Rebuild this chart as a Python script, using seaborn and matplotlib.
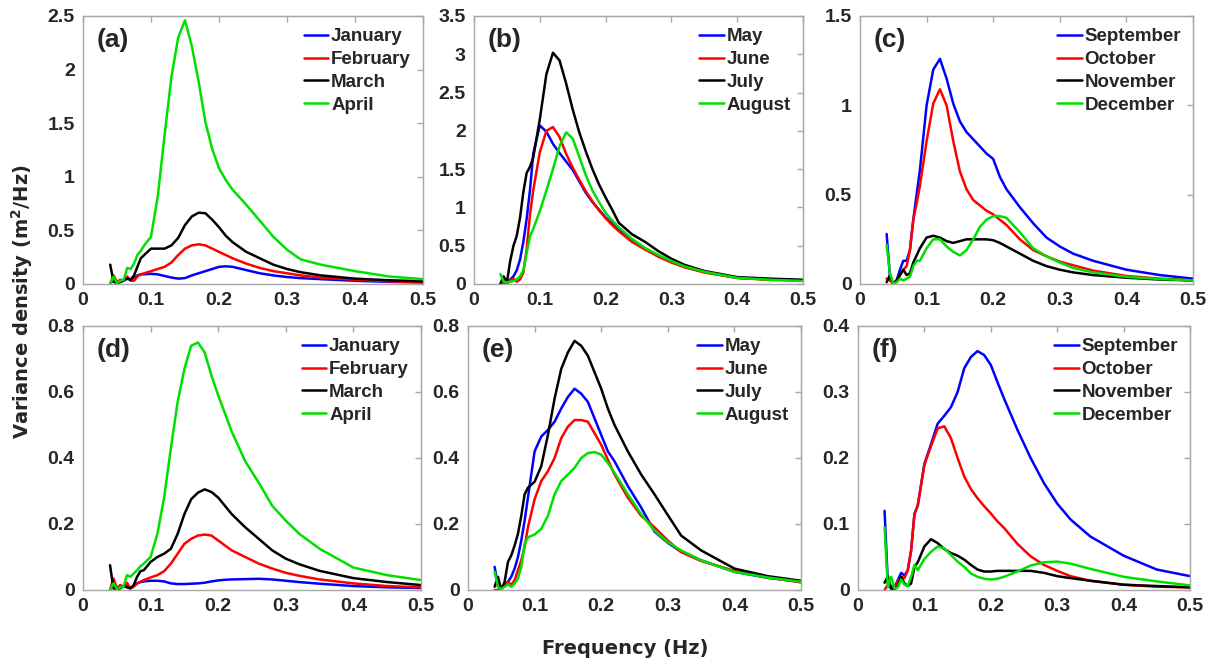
import numpy as np
import pandas as pd
import matplotlib
matplotlib.use("Agg")
import matplotlib.pyplot as plt
import seaborn as sns
from matplotlib.ticker import FuncFormatter

# ---------------- data ----------------
freq = [0.040, 0.045, 0.050, 0.055, 0.060, 0.065, 0.070, 0.075, 0.080, 0.085,
        0.090, 0.100, 0.110, 0.120, 0.130, 0.140, 0.150, 0.160, 0.170, 0.180,
        0.190, 0.200, 0.210, 0.220, 0.240, 0.260, 0.280, 0.300, 0.320, 0.350,
        0.400, 0.450, 0.500]

months_1 = ["January", "February", "March", "April"]
months_2 = ["May", "June", "July", "August"]
months_3 = ["September", "October", "November", "December"]

# (a)
a_jan = [0.0, 0.05, 0.01, 0.02, 0.03, 0.05, 0.04, 0.06, 0.08, 0.09, 0.09, 0.095, 0.09, 0.075, 0.06, 0.05, 0.055,
         0.08, 0.10, 0.12, 0.14, 0.16, 0.165, 0.16, 0.13, 0.10, 0.08, 0.065, 0.055, 0.045, 0.03, 0.02, 0.015]
a_feb = [0.0, 0.08, 0.02, 0.04, 0.03, 0.07, 0.03, 0.03, 0.07, 0.09, 0.10, 0.12, 0.14, 0.16, 0.20, 0.27, 0.33,
         0.36, 0.37, 0.36, 0.33, 0.30, 0.27, 0.24, 0.19, 0.15, 0.12, 0.10, 0.08, 0.06, 0.04, 0.025, 0.015]
a_mar = [0.18, 0.02, 0.01, 0.02, 0.04, 0.05, 0.04, 0.08, 0.16, 0.24, 0.27, 0.33, 0.33, 0.33, 0.36, 0.43, 0.55,
         0.63, 0.665, 0.66, 0.60, 0.53, 0.45, 0.39, 0.30, 0.24, 0.18, 0.14, 0.11, 0.08, 0.05, 0.035, 0.025]
a_apr = [0.0, 0.07, 0.01, 0.03, 0.04, 0.15, 0.14, 0.19, 0.27, 0.31, 0.36, 0.44, 0.82, 1.39, 1.93, 2.30, 2.46,
         2.22, 1.89, 1.51, 1.26, 1.08, 0.97, 0.88, 0.74, 0.59, 0.44, 0.32, 0.23, 0.18, 0.12, 0.07, 0.045]

# (b)
b_may = [0.0, 0.03, 0.01, 0.06, 0.10, 0.18, 0.32, 0.55, 0.85, 1.22, 1.70, 2.07, 1.99, 1.83, 1.71, 1.60, 1.49,
         1.34, 1.19, 1.07, 0.97, 0.87, 0.79, 0.71, 0.58, 0.46, 0.36, 0.29, 0.22, 0.16, 0.08, 0.06, 0.05]
b_jun = [0.0, 0.01, 0.0, 0.05, 0.07, 0.03, 0.06, 0.15, 0.45, 0.90, 1.22, 1.72, 2.00, 2.05, 1.92, 1.70, 1.52,
         1.36, 1.21, 1.08, 0.96, 0.86, 0.77, 0.69, 0.55, 0.45, 0.36, 0.28, 0.22, 0.15, 0.08, 0.055, 0.045]
b_jul = [0.0, 0.10, 0.02, 0.30, 0.50, 0.63, 0.87, 1.20, 1.45, 1.53, 1.65, 2.15, 2.74, 3.02, 2.92, 2.62, 2.28,
         1.98, 1.73, 1.50, 1.30, 1.13, 0.97, 0.80, 0.65, 0.55, 0.43, 0.33, 0.25, 0.17, 0.09, 0.07, 0.055]
b_aug = [0.13, 0.03, 0.02, 0.03, 0.04, 0.06, 0.10, 0.18, 0.40, 0.62, 0.72, 0.95, 1.22, 1.50, 1.80, 1.98, 1.90,
         1.66, 1.42, 1.22, 1.07, 0.93, 0.83, 0.74, 0.59, 0.47, 0.38, 0.30, 0.23, 0.16, 0.08, 0.055, 0.04]

# (c)
c_sep = [0.28, 0.04, 0.0, 0.02, 0.08, 0.13, 0.13, 0.19, 0.36, 0.50, 0.64, 1.00, 1.20, 1.26, 1.15, 1.01, 0.91,
         0.85, 0.81, 0.77, 0.73, 0.70, 0.60, 0.53, 0.43, 0.34, 0.26, 0.21, 0.17, 0.13, 0.08, 0.05, 0.03]
c_oct = [0.03, 0.02, 0.0, 0.02, 0.05, 0.08, 0.10, 0.19, 0.36, 0.45, 0.55, 0.80, 1.01, 1.09, 1.00, 0.80, 0.63,
         0.53, 0.47, 0.44, 0.41, 0.39, 0.36, 0.33, 0.25, 0.19, 0.155, 0.125, 0.105, 0.075, 0.045, 0.03, 0.02]
c_nov = [0.01, 0.05, 0.0, 0.02, 0.05, 0.08, 0.05, 0.06, 0.12, 0.16, 0.20, 0.26, 0.27, 0.26, 0.24, 0.23, 0.24,
         0.25, 0.25, 0.25, 0.25, 0.245, 0.23, 0.21, 0.17, 0.13, 0.10, 0.08, 0.065, 0.05, 0.035, 0.025, 0.02]
c_dec = [0.22, 0.06, 0.0, 0.01, 0.03, 0.02, 0.03, 0.04, 0.10, 0.13, 0.13, 0.20, 0.25, 0.25, 0.21, 0.18, 0.16,
         0.19, 0.25, 0.32, 0.36, 0.38, 0.38, 0.37, 0.29, 0.20, 0.155, 0.12, 0.09, 0.065, 0.04, 0.028, 0.02]

# (d)
d_jan = [0.0, 0.02, 0.003, 0.01, 0.01, 0.015, 0.005, 0.012, 0.02, 0.024, 0.026, 0.028, 0.028, 0.026, 0.02, 0.018,
         0.018, 0.019, 0.02, 0.022, 0.026, 0.029, 0.031, 0.032, 0.033, 0.034, 0.032, 0.028, 0.024, 0.019, 0.012,
         0.008, 0.006]
d_feb = [0.0, 0.035, 0.005, 0.015, 0.01, 0.022, 0.005, 0.01, 0.02, 0.025, 0.03, 0.038, 0.045, 0.057, 0.08, 0.11,
         0.14, 0.155, 0.165, 0.168, 0.165, 0.15, 0.135, 0.12, 0.10, 0.08, 0.065, 0.052, 0.043, 0.032, 0.02, 0.012,
         0.008]
d_mar = [0.075, 0.005, 0.003, 0.005, 0.012, 0.008, 0.005, 0.015, 0.04, 0.057, 0.06, 0.085, 0.10, 0.11, 0.125,
         0.17, 0.23, 0.275, 0.295, 0.305, 0.297, 0.28, 0.255, 0.23, 0.19, 0.155, 0.12, 0.095, 0.078, 0.058, 0.036,
         0.024, 0.015]
d_apr = [0.0, 0.02, 0.003, 0.008, 0.01, 0.045, 0.04, 0.05, 0.06, 0.072, 0.08, 0.10, 0.17, 0.28, 0.43, 0.57, 0.67,
         0.74, 0.75, 0.72, 0.65, 0.59, 0.535, 0.48, 0.39, 0.325, 0.255, 0.21, 0.17, 0.125, 0.068, 0.045, 0.03]

# (e)
e_may = [0.07, 0.01, 0.005, 0.015, 0.025, 0.04, 0.065, 0.10, 0.15, 0.21, 0.28, 0.42, 0.465, 0.485, 0.51, 0.55,
         0.585, 0.61, 0.595, 0.57, 0.52, 0.47, 0.42, 0.39, 0.315, 0.25, 0.177, 0.143, 0.116, 0.09, 0.055, 0.037,
         0.025]
e_jun = [0.0, 0.0, 0.005, 0.015, 0.025, 0.015, 0.03, 0.06, 0.09, 0.13, 0.19, 0.275, 0.33, 0.36, 0.40, 0.46,
         0.495, 0.515, 0.515, 0.51, 0.475, 0.44, 0.395, 0.35, 0.28, 0.225, 0.19, 0.15, 0.115, 0.088, 0.058, 0.038,
         0.023]
e_jul = [0.01, 0.04, 0.0, 0.025, 0.085, 0.105, 0.135, 0.17, 0.225, 0.29, 0.31, 0.328, 0.375, 0.47, 0.58, 0.67,
         0.72, 0.755, 0.74, 0.71, 0.66, 0.61, 0.55, 0.50, 0.42, 0.35, 0.29, 0.227, 0.165, 0.12, 0.065, 0.042, 0.028]
e_aug = [0.055, 0.01, 0.003, 0.01, 0.017, 0.01, 0.02, 0.035, 0.07, 0.14, 0.16, 0.168, 0.185, 0.225, 0.29, 0.33,
         0.35, 0.37, 0.40, 0.415, 0.418, 0.41, 0.385, 0.355, 0.29, 0.23, 0.18, 0.145, 0.12, 0.09, 0.055, 0.038,
         0.025]

# (f)
f_sep = [0.12, 0.01, 0.005, 0.004, 0.015, 0.026, 0.022, 0.03, 0.06, 0.115, 0.128, 0.191, 0.221, 0.252, 0.264,
         0.277, 0.30, 0.336, 0.353, 0.362, 0.356, 0.341, 0.315, 0.29, 0.243, 0.20, 0.162, 0.131, 0.107, 0.081,
         0.052, 0.031, 0.021]
f_oct = [0.0, 0.008, 0.002, 0.004, 0.012, 0.02, 0.018, 0.03, 0.06, 0.115, 0.128, 0.19, 0.218, 0.245, 0.248, 0.23,
         0.20, 0.172, 0.153, 0.139, 0.127, 0.116, 0.104, 0.094, 0.07, 0.051, 0.038, 0.029, 0.021, 0.014, 0.008,
         0.005, 0.004]
f_nov = [0.011, 0.021, 0.002, 0.001, 0.006, 0.02, 0.01, 0.006, 0.01, 0.035, 0.042, 0.066, 0.077, 0.071, 0.062,
         0.056, 0.052, 0.046, 0.038, 0.031, 0.028, 0.028, 0.029, 0.029, 0.029, 0.029, 0.026, 0.021, 0.018, 0.014,
         0.008, 0.006, 0.004]
f_dec = [0.095, 0.004, 0.02, 0.002, 0.004, 0.016, 0.008, 0.006, 0.02, 0.038, 0.03, 0.047, 0.058, 0.066, 0.063,
         0.053, 0.043, 0.035, 0.025, 0.02, 0.017, 0.016, 0.017, 0.02, 0.028, 0.037, 0.042, 0.043, 0.04, 0.032,
         0.02, 0.013, 0.007]

line_colors = ["#0000ff", "#ff0000", "#000000", "#00e000"]

panels = [
    ("(a)", months_1, [a_jan, a_feb, a_mar, a_apr], 2.5, 0.5, [83, 16, 423, 284]),
    ("(b)", months_2, [b_may, b_jun, b_jul, b_aug], 3.5, 0.5, [474, 16, 803, 284]),
    ("(c)", months_3, [c_sep, c_oct, c_nov, c_dec], 1.5, 0.5, [860, 16, 1193, 284]),
    ("(d)", months_1, [d_jan, d_feb, d_mar, d_apr], 0.8, 0.2, [83, 326, 421, 590]),
    ("(e)", months_2, [e_may, e_jun, e_jul, e_aug], 0.8, 0.2, [468, 326, 801, 590]),
    ("(f)", months_3, [f_sep, f_oct, f_nov, f_dec], 0.4, 0.1, [858, 326, 1190, 590]),
]

# ---------------- style ----------------
sns.set_style("white")
plt.rcParams["font.family"] = ["Liberation Sans", "DejaVu Sans"]
plt.rcParams["font.weight"] = "bold"
plt.rcParams["mathtext.fontset"] = "dejavusans"

W, H = 1216, 660
fig = plt.figure(figsize=(W / 100, H / 100), dpi=100)
grey = "#a8a8a8"
fmt = FuncFormatter(lambda v, p: "%g" % round(v, 3))

for label, months, series, ymax, ystep, (x0, y0, x1, y1) in panels:
    ax = fig.add_axes([x0 / W, 1 - y1 / H, (x1 - x0) / W, (y1 - y0) / H])
    df = pd.DataFrame({
        "Frequency": np.tile(freq, len(months)),
        "Density": np.concatenate([np.asarray(s, float) for s in series]),
        "Month": np.repeat(months, len(freq)),
    })
    sns.lineplot(data=df, x="Frequency", y="Density", hue="Month", hue_order=months,
                 palette=line_colors, estimator=None, sort=False, linewidth=1.8, ax=ax)
    ax.set_xlim(0, 0.5)
    ax.set_ylim(0, ymax)
    xt = np.arange(0, 0.5001, 0.1)
    yt = np.arange(0, ymax + 1e-9, ystep)
    ax.set_xticks(xt)
    ax.set_yticks(yt)
    ax.xaxis.set_major_formatter(fmt)
    ax.yaxis.set_major_formatter(fmt)
    ax.set_xlabel("")
    ax.set_ylabel("")
    for sp in ax.spines.values():
        sp.set_color(grey)
        sp.set_linewidth(1.0)
    ax.tick_params(axis="both", direction="out", length=4, width=1, color=grey,
                   labelsize=14, pad=2)
    for t in ax.get_xticklabels() + ax.get_yticklabels():
        t.set_fontweight("bold")
    # inward ticks on top and right
    sx = ax.secondary_xaxis("top")
    sx.set_xticks(xt)
    sx.tick_params(direction="in", length=4, width=1, color=grey, labeltop=False)
    sx.spines["top"].set_color(grey)
    sy = ax.secondary_yaxis("right")
    sy.set_yticks(yt)
    sy.tick_params(direction="in", length=4, width=1, color=grey, labelright=False)
    sy.spines["right"].set_color(grey)

    handles, labels = ax.get_legend_handles_labels()
    ax.legend(handles, labels, loc="upper right", frameon=False,
              prop={"family": "Liberation Sans", "weight": "bold", "size": 13.5},
              handlelength=1.3, handletextpad=0.15, labelspacing=0.3,
              borderaxespad=0.45, borderpad=0.2)
    ax.text(0.04, 0.955, label, transform=ax.transAxes, ha="left", va="top",
            fontsize=19, fontweight="bold", family="Liberation Sans")

fig.text(22 / W, 1 - 302 / H, "Variance density (m$^\\mathbf{2}$/Hz)", rotation=90,
         ha="center", va="center", fontsize=14, fontweight="bold", family="DejaVu Sans")
fig.text(625 / W, 1 - 648 / H, "Frequency (Hz)", ha="center", va="center",
         fontsize=14, fontweight="bold", family="DejaVu Sans")

fig.savefig("out.png", dpi=100)
